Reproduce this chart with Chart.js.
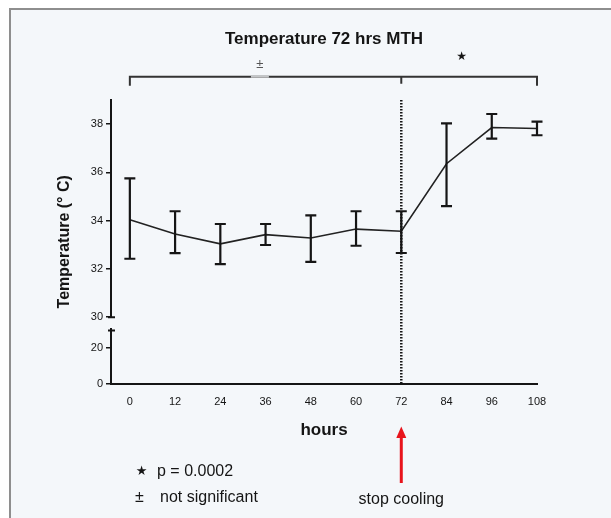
<!DOCTYPE html>
<html>
<head>
<meta charset="utf-8">
<script src="https://cdn.jsdelivr.net/npm/chart.js@4.4.1/dist/chart.umd.min.js"></script>
<style>
  html, body { margin: 0; padding: 0; background: #fff; overflow: hidden; }
  #frame { position: absolute; left: 9px; top: 8px; width: 600px; height: 508px;
    border-left: 2px solid #8e8e8e; border-top: 2px solid #8e8e8e; background: #f4f7fa; }
  #chart { display: block; }
</style>
</head>
<body>
<div id="frame"><canvas id="chart" width="600" height="508"></canvas></div>
<script>
// mean temperature with error bar ends
const hours = [0, 12, 24, 36, 48, 60, 72, 84, 96, 108];
const meanTemp = [34.04, 33.45, 33.04, 33.42, 33.28, 33.65, 33.56, 36.36, 37.86, 37.82];
const errUpper = [35.75, 34.39, 33.86, 33.86, 34.22, 34.39, 34.39, 38.03, 38.42, 38.10];
const errLower = [32.42, 32.65, 32.20, 32.99, 32.29, 32.96, 32.66, 34.60, 37.40, 37.54];

const xTicks = [0, 12, 24, 36, 48, 60, 72, 84, 96, 108];
const yTicksHigh = [30, 32, 34, 36, 38];
const yTicksLow = [0, 20];

const stopCoolingHour = 72;
const FONT = '"Liberation Sans", Arial, "DejaVu Sans", sans-serif';
const INK = '#151515';

Chart.defaults.font.family = FONT;
Chart.defaults.color = INK;

function fixWidth(scale) { scale.width = 20; }

const errorBars = {
	id: 'errorBars',
	afterDatasetsDraw(chart) {
		const {ctx, scales: {x, yHigh}} = chart;
		ctx.save();
		ctx.strokeStyle = INK;
		ctx.lineWidth = 2.2;
		hours.forEach((h, i) => {
			const px = x.getPixelForValue(h);
			const top = yHigh.getPixelForValue(errUpper[i]);
			const bot = yHigh.getPixelForValue(errLower[i]);
			ctx.beginPath();
			ctx.moveTo(px, top); ctx.lineTo(px, bot);
			ctx.moveTo(px - 5.5, top); ctx.lineTo(px + 5.5, top);
			ctx.moveTo(px - 5.5, bot); ctx.lineTo(px + 5.5, bot);
			ctx.stroke();
		});

		// dotted line where cooling stops
		const sx = x.getPixelForValue(stopCoolingHour);
		ctx.setLineDash([1.5, 1.5]);
		ctx.lineWidth = 2.5;
		ctx.beginPath();
		ctx.moveTo(sx, chart.chartArea.top);
		ctx.lineTo(sx, chart.chartArea.bottom);
		ctx.stroke();
		ctx.restore();
	}
};

const extras = {
	id: 'extras',
	afterDraw(chart) {
		const {ctx, chartArea, scales: {x, yHigh, yLow}} = chart;
		ctx.save();
		ctx.strokeStyle = INK;
		ctx.fillStyle = INK;

		// caps at the axis break
		const ax = chartArea.left;
		ctx.lineWidth = 2;
		ctx.beginPath();
		ctx.moveTo(ax - 3, yHigh.bottom); ctx.lineTo(ax + 4, yHigh.bottom);
		ctx.moveTo(ax - 3, yLow.top + 1); ctx.lineTo(ax + 4, yLow.top + 1);
		ctx.stroke();

		// y axis title
		ctx.save();
		ctx.translate(chartArea.left - 46, (chartArea.top + chartArea.bottom) / 2);
		ctx.rotate(-Math.PI / 2);
		ctx.font = 'bold 16px ' + FONT;
		ctx.textAlign = 'center';
		ctx.textBaseline = 'middle';
		ctx.fillText('Temperature (° C)', 0, 0);
		ctx.restore();

		// significance bracket
		const bx0 = x.getPixelForValue(0);
		const bx1 = x.getPixelForValue(72);
		const bx2 = x.getPixelForValue(108);
		const by = 66.7;
		ctx.lineWidth = 2;
		ctx.strokeStyle = '#333';
		ctx.beginPath();
		ctx.moveTo(bx0, by + 9); ctx.lineTo(bx0, by); ctx.lineTo(bx2, by); ctx.lineTo(bx2, by + 9);
		ctx.moveTo(bx1, by); ctx.lineTo(bx1, by + 7);
		ctx.stroke();
		ctx.strokeStyle = '#c4c6c8';
		ctx.beginPath();
		ctx.moveTo(x.getPixelForValue(34.5) - 9, by); ctx.lineTo(x.getPixelForValue(34.5) + 9, by);
		ctx.stroke();

		ctx.textAlign = 'center';
		ctx.textBaseline = 'middle';
		ctx.fillStyle = '#555';
		ctx.font = '13px ' + FONT;
		ctx.fillText('±', x.getPixelForValue(34.5), 54);
		ctx.fillStyle = INK;
		ctx.font = '12px "DejaVu Sans", sans-serif';
		ctx.fillText('★', x.getPixelForValue(88), 46.7);

		// footnotes
		ctx.font = '13px "DejaVu Sans", sans-serif';
		ctx.fillText('★', 130.7, 461.7);
		ctx.font = '16px ' + FONT;
		ctx.textAlign = 'left';
		ctx.fillText('p = 0.0002', 146, 461.7);
		ctx.fillText('±', 124, 488);
		ctx.fillText('not significant', 149, 488);

		// stop cooling arrow
		const sx = x.getPixelForValue(stopCoolingHour);
		ctx.textAlign = 'center';
		ctx.fillText('stop cooling', sx, 490);
		ctx.strokeStyle = '#e8141c';
		ctx.fillStyle = '#e8141c';
		ctx.lineWidth = 3;
		ctx.beginPath();
		ctx.moveTo(sx, 473); ctx.lineTo(sx, 426);
		ctx.stroke();
		ctx.beginPath();
		ctx.moveTo(sx, 416.5); ctx.lineTo(sx - 5, 428); ctx.lineTo(sx + 5, 428);
		ctx.closePath();
		ctx.fill();
		ctx.restore();
	}
};

const yCommon = {
	type: 'linear',
	position: 'left',
	stack: 'temp',
	border: {display: true, color: INK, width: 2},
	grid: {drawOnChartArea: false, drawTicks: true, tickLength: 5, color: INK, lineWidth: 1.5},
	ticks: {font: {size: 11}, padding: 3, color: INK},
	afterFit: fixWidth
};

new Chart(document.getElementById('chart'), {
	type: 'line',
	data: {
		datasets: [{
			label: 'Temperature',
			data: hours.map((h, i) => ({x: h, y: meanTemp[i]})),
			yAxisID: 'yHigh',
			borderColor: '#222',
			borderWidth: 1.6,
			pointRadius: 0,
			tension: 0
		}]
	},
	options: {
		responsive: false,
		animation: false,
		layout: {padding: {top: 10, left: 80, right: 74, bottom: 73.8}},
		plugins: {
			legend: {display: false},
			tooltip: {enabled: false},
			title: {
				display: true,
				text: 'Temperature 72 hrs MTH',
				fullSize: false,
				color: INK,
				font: {size: 17, weight: 'bold'},
				padding: {top: 8.8, bottom: 50.8}
			}
		},
		scales: {
			x: {
				type: 'linear',
				min: -5,
				max: 108,
				afterBuildTicks: s => { s.ticks = xTicks.map(v => ({value: v})); },
				border: {display: true, color: INK, width: 2},
				grid: {display: false, drawTicks: false},
				ticks: {font: {size: 11}, padding: 11.4, color: INK},
				title: {display: true, text: 'hours', color: INK, font: {size: 17, weight: 'bold'}, padding: {top: 0.2, bottom: 4}}
			},
			yLow: Object.assign({}, yCommon, {
				min: 0, max: 30.4, stackWeight: 54,
				afterBuildTicks: s => { s.ticks = yTicksLow.map(v => ({value: v})); }
			}),
			yGap: {
				type: 'linear', position: 'left', stack: 'temp', stackWeight: 12.3,
				min: 0, max: 1,
				border: {display: false},
				grid: {display: false},
				ticks: {display: false},
				afterFit: fixWidth
			},
			yHigh: Object.assign({}, yCommon, {
				min: 30, max: 39, stackWeight: 216.7,
				afterBuildTicks: s => { s.ticks = yTicksHigh.map(v => ({value: v})); }
			})
		}
	},
	plugins: [errorBars, extras]
});
</script>
</body>
</html>
